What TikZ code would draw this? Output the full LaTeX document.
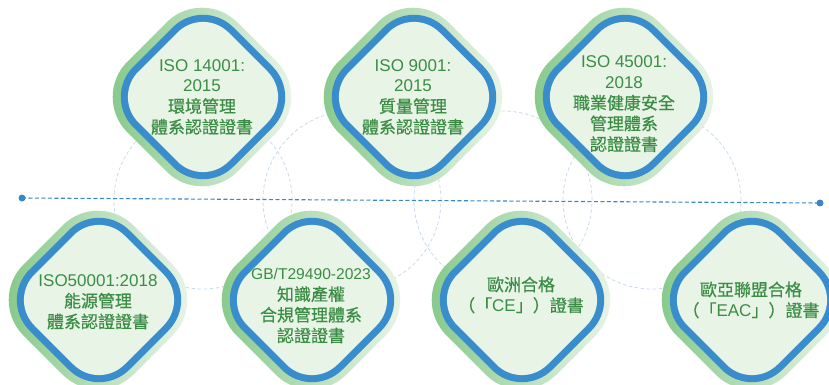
\documentclass[tikz,border=0pt]{standalone}
\usepackage{fontspec}
\setmainfont{Liberation Sans}
\newfontfamily\cjk[FakeBold=0.6]{Noto Sans CJK TC}
\usetikzlibrary{positioning, calc}

\definecolor{rimgreen}{HTML}{7EC582}
\definecolor{rimlight}{HTML}{F2F8F1}
\definecolor{rimblue}{HTML}{3A8DCC}
\definecolor{padfill}{HTML}{E8F4E5}
\definecolor{textgreen}{HTML}{3B8D45}
\definecolor{ringblue}{HTML}{C6DAEF}
\definecolor{axisblue}{HTML}{3A86C6}

\tikzset{
  outerrim/.style={rounded corners=50pt, left color=rimgreen, right color=rimlight},
  bluerim/.style={rounded corners=43pt, fill=rimblue},
  innerpad/.style={rounded corners=36pt, fill=padfill},
  certtext/.style={align=center, text=textgreen, inner sep=0pt, font=\fontsize{17}{20.7}\selectfont},
  ringline/.style={draw=ringblue, line width=0.8pt, dash pattern=on 3.5pt off 2.5pt},
  axisline/.style={draw=axisblue, line width=1.1pt, dash pattern=on 4pt off 2.5pt}
}

\begin{document}
\begin{tikzpicture}[x=1pt, y=-1pt]

\useasboundingbox (0,0) rectangle (829,385);

%//rings behind the boxes
\foreach \cx in {203,352,503,652}
\draw[ringline] (\cx,200) circle (89pt);

\coordinate (lend) at (22,198);
\coordinate (rend) at (820,203);
\draw[axisline] (lend) -- (rend);
\fill[axisblue] (lend) circle (3.5pt);
\fill[axisblue] (rend) circle (3.5pt);

%//x, y, name, text y, text
\foreach \cx/\cy/\nm/\ty/\txt in {
  202/97/iso14k/97/{ISO 14001:\\2015\\{\cjk 環境管理}\\{\cjk 體系認證證書}},
  413/97/iso9k/97/{ISO 9001:\\2015\\{\cjk 質量管理}\\{\cjk 體系認證證書}},
  624/97/iso45k/104/{ISO 45001:\\2018\\{\cjk 職業健康安全}\\{\cjk 管理體系}\\{\cjk 認證證書}},
  98/300/iso50k/302/{ISO50001:2018\\{\cjk 能源管理}\\{\cjk 體系認證證書}},
  311/300/gbt/306/{{\fontsize{15.6}{20.7}\selectfont GB/T29490-2023}\\{\cjk 知識產權}\\{\cjk 合規管理體系}\\{\cjk 認證證書}},
  521/300/ce/295/{{\cjk 歐洲合格}\\{\cjk （「}CE{\cjk 」）證書}},
  751/300/eac/300/{{\cjk 歐亞聯盟合格}\\{\cjk （「}EAC{\cjk 」）證書}}}
{
\path[outerrim] (\cx,\cy) +(-110,0) -- +(0,-110) -- +(110,0) -- +(0,110) -- cycle;
\path[bluerim] (\cx+1,\cy) +(-100,0) -- +(0,-100) -- +(100,0) -- +(0,100) -- cycle;
\path[innerpad] (\cx+1,\cy) +(-90,0) -- +(0,-90) -- +(90,0) -- +(0,90) -- cycle;
\node[certtext] (\nm) at (\cx,\ty) {\txt};
}

\end{tikzpicture}
\end{document}
